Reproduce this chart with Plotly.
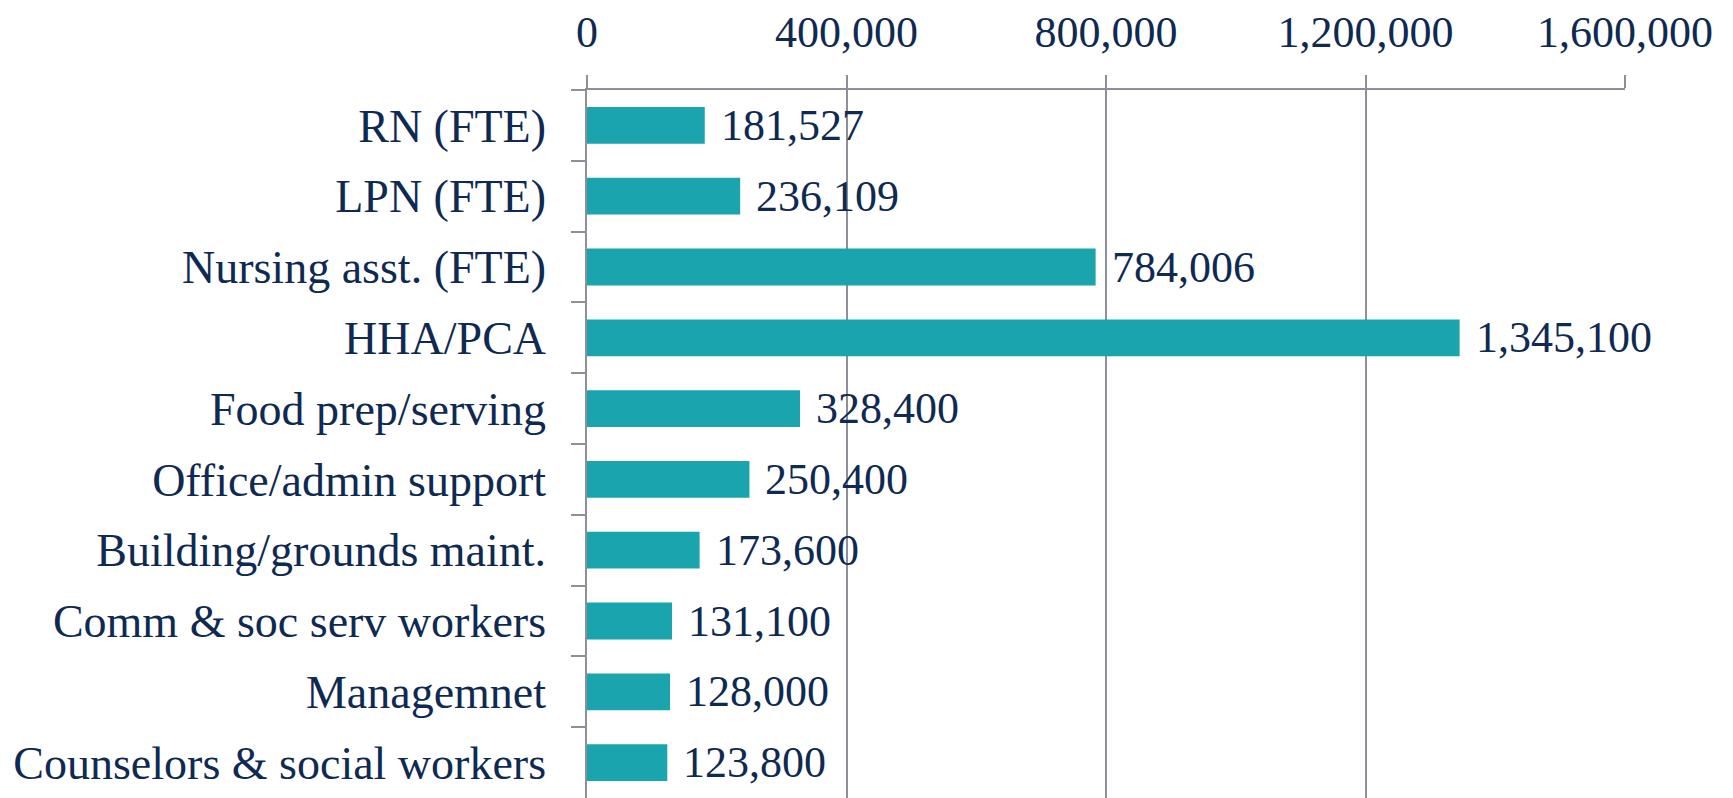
import plotly.graph_objects as go

categories = ["RN (FTE)", "LPN (FTE)", "Nursing asst. (FTE)", "HHA/PCA", "Food prep/serving",
              "Office/admin support", "Building/grounds maint.", "Comm & soc serv workers",
              "Managemnet", "Counselors & social workers"]
values = [181527, 236109, 784006, 1345100, 328400, 250400, 173600, 131100, 128000, 123800]
x_ticks = [0, 400000, 800000, 1200000, 1600000]

BAR = "#1aa4ad"
TEXT = "#0f2a52"
GRID = "#8f8f9b"
FONT = "Liberation Serif"

fig = go.Figure()
fig.add_trace(go.Bar(
    x=values, y=categories, orientation="h",
    marker=dict(color=BAR, line=dict(width=0)),
    hoverinfo="skip",
))

for c, v in zip(categories, values):
    fig.add_annotation(x=v, y=c, text=f"{v:,}", showarrow=False,
                       xanchor="left", yanchor="middle", xshift=14,
                       font=dict(family=FONT, size=44, color=TEXT))

fig.update_layout(
    width=1725, height=790,
    margin=dict(l=579, r=108, t=78, b=0),
    paper_bgcolor="white", plot_bgcolor="white",
    bargap=0.48, showlegend=False,
    font=dict(family=FONT, size=44, color=TEXT),
)
fig.update_xaxes(
    side="top", range=[0, 1600000], tickvals=x_ticks,
    ticktext=[f"{t:,}" for t in x_ticks],
    ticks="outside", ticklen=13, tickcolor=GRID, tickwidth=1.5,
    showline=True, linecolor=GRID, linewidth=1.5,
    showgrid=True, gridcolor=GRID, gridwidth=1.5,
    zeroline=False, ticklabelstandoff=11,
    tickfont=dict(family=FONT, size=44, color=TEXT),
)
fig.update_yaxes(
    categoryorder="array", categoryarray=categories, autorange="reversed",
    ticks="outside", tickson="boundaries", ticklen=14, tickcolor=GRID, tickwidth=1.5,
    showline=True, linecolor=GRID, linewidth=1.5, showgrid=False,
    ticklabelstandoff=30,
    tickfont=dict(family=FONT, size=46, color=TEXT),
)

fig.write_html("out.html")
